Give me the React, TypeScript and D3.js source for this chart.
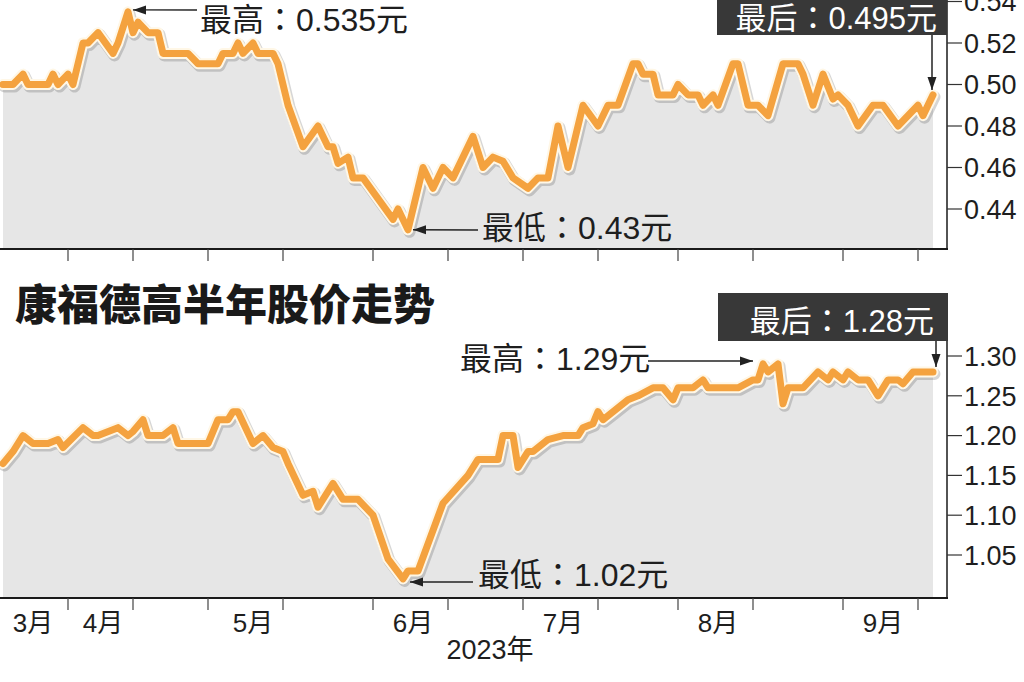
import * as d3 from "d3";
import { useEffect, useRef } from "react";

// day = calendar-ish day offset from the first session shown
const topDays = [0, 2, 4, 5, 9, 10, 11, 13, 14, 16, 17, 19, 22, 23, 25, 26, 27, 29, 31, 32, 37, 39, 43, 44, 46, 47, 48, 50, 51, 54, 55, 57, 60, 63, 65, 66, 67, 69, 70, 72, 78, 79, 81, 84, 86, 88, 90, 94, 96, 98, 100, 102, 105, 107, 109, 111, 113, 116, 119, 121, 123, 126, 127, 128, 130, 131, 134, 135, 137, 139, 140, 142, 143, 146, 147, 149, 151, 153, 156, 159, 160, 162, 164, 166, 167, 169, 171, 174, 176, 179, 183, 184, 186];
const topPrices = [0.5, 0.5, 0.505, 0.5, 0.5, 0.505, 0.5, 0.505, 0.5, 0.52, 0.52, 0.525, 0.515, 0.52, 0.535, 0.525, 0.53, 0.525, 0.525, 0.515, 0.515, 0.51, 0.51, 0.515, 0.515, 0.52, 0.515, 0.52, 0.515, 0.515, 0.51, 0.49, 0.47, 0.48, 0.47, 0.47, 0.462, 0.465, 0.455, 0.455, 0.435, 0.44, 0.43, 0.46, 0.45, 0.46, 0.455, 0.475, 0.46, 0.465, 0.463, 0.455, 0.45, 0.455, 0.455, 0.48, 0.46, 0.49, 0.48, 0.49, 0.49, 0.51, 0.51, 0.505, 0.505, 0.495, 0.495, 0.5, 0.495, 0.495, 0.49, 0.495, 0.49, 0.51, 0.51, 0.49, 0.49, 0.485, 0.51, 0.51, 0.505, 0.49, 0.505, 0.493, 0.495, 0.49, 0.48, 0.49, 0.49, 0.48, 0.49, 0.485, 0.495];

const bottomDays = [0, 2, 4, 6, 9, 11, 12, 16, 18, 19, 23, 25, 26, 28, 29, 32, 34, 35, 41, 43, 45, 46, 47, 50, 52, 54, 56, 57, 60, 62, 63, 66, 68, 71, 74, 77, 80, 81, 83, 88, 93, 95, 99, 100, 102, 103, 105, 106, 109, 112, 115, 116, 118, 119, 120, 122, 125, 127, 130, 132, 134, 135, 138, 140, 141, 147, 150, 151, 152, 153, 155, 156, 157, 160, 163, 165, 166, 168, 169, 171, 173, 175, 177, 179, 180, 182, 186];
const bottomPrices = [1.165, 1.18, 1.2, 1.19, 1.19, 1.195, 1.185, 1.21, 1.2, 1.2, 1.21, 1.2, 1.205, 1.22, 1.2, 1.2, 1.21, 1.19, 1.19, 1.22, 1.22, 1.23, 1.23, 1.19, 1.2, 1.185, 1.18, 1.165, 1.125, 1.13, 1.11, 1.14, 1.12, 1.12, 1.1, 1.045, 1.02, 1.03, 1.03, 1.115, 1.15, 1.17, 1.17, 1.2, 1.2, 1.16, 1.18, 1.18, 1.195, 1.2, 1.2, 1.21, 1.215, 1.23, 1.22, 1.23, 1.245, 1.25, 1.26, 1.26, 1.245, 1.26, 1.26, 1.27, 1.26, 1.26, 1.27, 1.27, 1.29, 1.28, 1.29, 1.24, 1.26, 1.26, 1.28, 1.27, 1.28, 1.27, 1.28, 1.27, 1.27, 1.25, 1.27, 1.27, 1.265, 1.28, 1.28];

const tickDays = [13, 26, 41, 56, 74, 89, 104, 119, 135, 150, 168, 183];
const monthDays = [6, 20, 50, 82, 112, 143, 176];
const monthLabels = ["3月", "4月", "5月", "6月", "7月", "8月", "9月"];
const topYTicks = [0.44, 0.46, 0.48, 0.5, 0.52, 0.54];
const bottomYTicks = [1.05, 1.1, 1.15, 1.2, 1.25, 1.3];
const chartTitle = "康福德高半年股价走势";
const yearLabel = "2023年";

const NUM_FONT = "'Liberation Sans Narrow','Liberation Sans',Arial,'Noto Sans CJK SC',sans-serif";
// TC face keeps the full-width colon centred like the print version
const MIX_FONT = "'Liberation Sans',Arial,'Noto Sans CJK TC',sans-serif";
const frameRight = 947;

const x = d3.scaleLinear().domain([0, 186]).range([3, 933]);
const topY = d3.scaleLinear().domain([0.44, 0.52]).range([209, 43]);
const bottomY = d3.scaleLinear().domain([1.05, 1.3]).range([555, 356]);

function arrow(svg, x1, y1, x2, y2) {
    svg.append("line")
        .attr("x1", x1).attr("y1", y1).attr("x2", x2).attr("y2", y2)
        .attr("stroke", "#222").attr("stroke-width", 1.5)
    const a = Math.atan2(y2 - y1, x2 - x1)
    const len = 13, hw = 4.5
    const bx = x2 - len * Math.cos(a), by = y2 - len * Math.sin(a)
    const px = -Math.sin(a) * hw, py = Math.cos(a) * hw
    svg.append("path")
        .attr("d", `M${x2},${y2}L${bx + px},${by + py}L${bx - px},${by - py}Z`)
        .attr("fill", "#222")
}

function drawPanel(svg, days, prices, y, plotTop, plotBottom, yTicks) {
    const data = days.map((d, i) => ({ d: d, v: prices[i] }))
    const area = d3.area().x(p => x(p.d)).y0(plotBottom).y1(p => y(p.v))
    const line = d3.line().x(p => x(p.d)).y(p => y(p.v))

    svg.append("path").attr("d", area(data)).attr("fill", "#e6e6e6")

    // shadow + halo + orange line
    svg.append("path").attr("d", line(data)).attr("transform", "translate(1.5,2)")
        .attr("fill", "none").attr("stroke", "rgba(0,0,0,0.16)").attr("stroke-width", 12)
        .attr("stroke-linejoin", "round").attr("stroke-linecap", "round")
    svg.append("path").attr("d", line(data))
        .attr("fill", "none").attr("stroke", "#fff7e6").attr("stroke-width", 11)
        .attr("stroke-linejoin", "round").attr("stroke-linecap", "round")
    svg.append("path").attr("d", line(data))
        .attr("fill", "none").attr("stroke", "#f4a23f").attr("stroke-width", 7)
        .attr("stroke-linejoin", "round").attr("stroke-linecap", "round")

    // frame
    svg.append("line").attr("x1", 0).attr("x2", frameRight + 1).attr("y1", plotBottom).attr("y2", plotBottom)
        .attr("stroke", "#1a1a1a").attr("stroke-width", 2)
    svg.append("line").attr("x1", frameRight).attr("x2", frameRight).attr("y1", plotTop).attr("y2", plotBottom)
        .attr("stroke", "#1a1a1a").attr("stroke-width", 1.5)

    // x ticks
    svg.selectAll(null).data(tickDays).enter().append("line")
        .attr("x1", d => x(d)).attr("x2", d => x(d))
        .attr("y1", plotBottom).attr("y2", plotBottom + 12)
        .attr("stroke", "#444").attr("stroke-width", 1.2)

    // y ticks
    svg.selectAll(null).data(yTicks).enter().append("line")
        .attr("x1", frameRight).attr("x2", frameRight + 15)
        .attr("y1", d => y(d)).attr("y2", d => y(d))
        .attr("stroke", "#333").attr("stroke-width", 1.2)
    svg.selectAll(null).data(yTicks).enter().append("text")
        .attr("x", frameRight + 17).attr("y", d => y(d)).attr("dy", "0.36em")
        .style("font", "27px " + NUM_FONT).style("fill", "#1e1e1e")
        .text(d => d3.format(".2f")(d))
}

function lastBox(svg, bx, by, bw, bh, textX, textY, value) {
    svg.append("rect").attr("x", bx).attr("y", by).attr("width", bw).attr("height", bh).attr("fill", "#383838")
    svg.append("text").attr("x", textX).attr("y", textY).attr("text-anchor", "end")
        .style("font", "31px " + MIX_FONT).style("fill", "#ffffff")
        .text("最后：" + value + "元")
}

function note(svg, tx, ty, label) {
    svg.append("text").attr("x", tx).attr("y", ty)
        .style("font", "32px " + MIX_FONT).style("fill", "#1e1e1e").text(label)
}

export default function App() {
    const ref = useRef(null)

    useEffect(() => {
        const svg = d3.select(ref.current)
        svg.selectAll("*").remove()

        drawPanel(svg, topDays, topPrices, topY, -10, 249, topYTicks)
        drawPanel(svg, bottomDays, bottomPrices, bottomY, 293, 598, bottomYTicks)

        // top annotations
        const tMaxI = topPrices.indexOf(d3.max(topPrices))
        const tMinI = topPrices.indexOf(d3.min(topPrices))
        arrow(svg, 197, 10, x(topDays[tMaxI]) + 5, topY(topPrices[tMaxI]) - 2)
        note(svg, 200, 31, "最高：" + topPrices[tMaxI] + "元")
        arrow(svg, 478, 230, x(topDays[tMinI]) + 5, topY(topPrices[tMinI]))
        note(svg, 482, 239, "最低：" + topPrices[tMinI] + "元")
        const tLast = topPrices.length - 1
        lastBox(svg, 717, -15, 230, 50, 937, 29, topPrices[tLast])
        arrow(svg, 932, 35, 932, topY(topPrices[tLast]) - 5)

        // title
        svg.append("text").attr("x", 15).attr("y", 320)
            .style("font", "900 42px 'Noto Sans CJK SC',sans-serif").style("fill", "#1a1a1a")
            .text(chartTitle)

        // bottom annotations
        const bMaxI = bottomPrices.indexOf(d3.max(bottomPrices))
        const bMinI = bottomPrices.indexOf(d3.min(bottomPrices))
        arrow(svg, 648, 361, x(bottomDays[bMaxI]) - 10, bottomY(bottomPrices[bMaxI]) - 3)
        note(svg, 460, 370, "最高：" + bottomPrices[bMaxI] + "元")
        arrow(svg, 473, 582, x(bottomDays[bMinI]) + 7, bottomY(bottomPrices[bMinI]) + 3)
        note(svg, 478, 586, "最低：" + bottomPrices[bMinI] + "元")
        const bLast = bottomPrices.length - 1
        lastBox(svg, 718, 293, 230, 48, 934, 332, bottomPrices[bLast])
        arrow(svg, 936, 341, 936, bottomY(bottomPrices[bLast]) - 5)

        // month labels
        svg.selectAll(null).data(monthDays).enter().append("text")
            .attr("x", d => x(d)).attr("y", 632).attr("text-anchor", "middle")
            .style("font", "26px " + NUM_FONT).style("fill", "#1e1e1e")
            .text((d, i) => monthLabels[i])
        svg.append("text").attr("x", 490).attr("y", 659).attr("text-anchor", "middle")
            .style("font", "27px " + NUM_FONT).style("fill", "#1e1e1e")
            .text(yearLabel)
    }, [])

    return (
        <svg ref={ref} width={1024} height={682}
            style={{ position: "absolute", left: 0, top: 0, background: "#fff" }} />
    )
}
